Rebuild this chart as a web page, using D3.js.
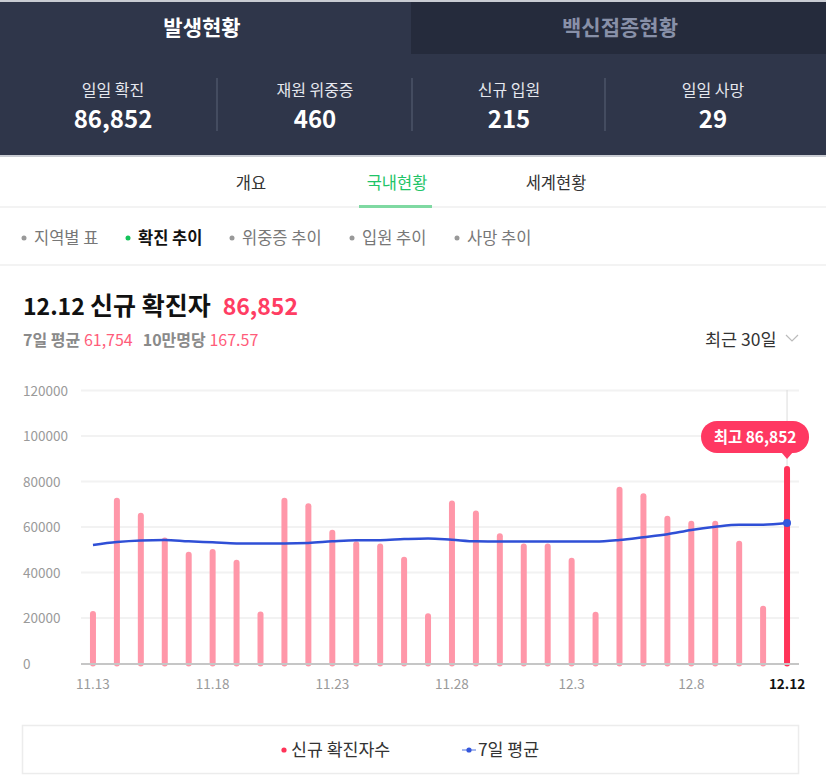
<!DOCTYPE html>
<html>
<head>
<meta charset="utf-8">
<script src="https://cdn.jsdelivr.net/npm/d3@7"></script>
<style>
  html, body { margin: 0; padding: 0; background: #fff; }
  svg { display: block; font-family: "Noto Sans CJK KR", "Noto Sans", sans-serif; }
</style>
</head>
<body>
<svg id="c" width="826" height="784"></svg>
<script>
// ---------- data ----------
const dates = ["11.13","11.14","11.15","11.16","11.17","11.18","11.19","11.20","11.21","11.22",
  "11.23","11.24","11.25","11.26","11.27","11.28","11.29","11.30","12.1","12.2",
  "12.3","12.4","12.5","12.6","12.7","12.8","12.9","12.10","12.11","12.12"];
const confirmed = [23100, 72900, 66300, 55400, 49100, 50300, 45600, 22900, 72900, 70400,
  58800, 53700, 52800, 46900, 22100, 71600, 67200, 57200, 52800, 52800,
  46500, 22800, 77700, 74800, 65000, 62800, 62800, 54000, 25400, 86852];
const avg7 = [52100, 53400, 54100, 54300, 53700, 53300, 52800, 52800, 52800, 53000,
  53700, 54200, 54200, 54700, 55000, 54400, 53700, 53600, 53600, 53600,
  53600, 53600, 54300, 55500, 56800, 58700, 60100, 61000, 61000, 61754];
const yTicks = [0, 20000, 40000, 60000, 80000, 100000, 120000];
const xTickLabels = ["11.13","11.18","11.23","11.28","12.3","12.8","12.12"];
const statLabels = ["일일 확진","재원 위중증","신규 입원","일일 사망"];
const statValues = ["86,852","460","215","29"];
const topTabs = ["발생현황","백신접종현황"];
const navTabs = ["개요","국내현황","세계현황"];
const subTabs = ["지역별 표","확진 추이","위중증 추이","입원 추이","사망 추이"];
const legendLabels = ["신규 확진자수","7일 평균"];

const svg = d3.select("#c");

// ---------- header ----------
svg.append("rect").attr("x",0).attr("y",0).attr("width",826).attr("height",156).attr("fill","#2f364a");
svg.append("rect").attr("x",411).attr("y",0).attr("width",415).attr("height",54).attr("fill","#252b3c");
svg.append("rect").attr("x",0).attr("y",0).attr("width",826).attr("height",2).attr("fill","#c9ccd3");
svg.append("rect").attr("x",0).attr("y",155).attr("width",826).attr("height",2).attr("fill","#c9ccd3");

svg.append("text").attr("x",202).attr("y",35).attr("text-anchor","middle")
  .attr("font-size",21).attr("font-weight","bold").attr("fill","#ffffff").text(topTabs[0]);
svg.append("text").attr("x",620).attr("y",35).attr("text-anchor","middle")
  .attr("font-size",21).attr("font-weight","bold").attr("fill","#8890a8").text(topTabs[1]);

const statX = [113, 315, 509, 713];
statLabels.forEach((l,i)=>{
  svg.append("text").attr("x",statX[i]).attr("y",96).attr("text-anchor","middle")
    .attr("font-size",16).attr("fill","#e6e8ee").text(l);
  svg.append("text").attr("x",statX[i]).attr("y",128).attr("text-anchor","middle")
    .attr("font-size",24).attr("font-weight","bold").attr("fill","#ffffff").text(statValues[i]);
});
[217, 412, 605].forEach(x=>{
  svg.append("line").attr("x1",x).attr("x2",x).attr("y1",78).attr("y2",131)
    .attr("stroke","#5b6276").attr("stroke-width",1);
});

// ---------- nav tabs ----------
const navX = [251, 397, 556];
navTabs.forEach((t,i)=>{
  svg.append("text").attr("x",navX[i]).attr("y",189).attr("text-anchor","middle")
    .attr("font-size",16.5).attr("fill", i===1 ? "#1fc468" : "#333").text(t);
});
svg.append("rect").attr("x",0).attr("y",206).attr("width",826).attr("height",2).attr("fill","#f3f3f3");
svg.append("rect").attr("x",359).attr("y",205).attr("width",73).attr("height",3).attr("fill","#7fd9a2");

// ---------- sub tabs ----------
const subDotX = [24, 128, 232, 352, 457];
subTabs.forEach((t,i)=>{
  const active = i===1;
  svg.append("circle").attr("cx",subDotX[i]).attr("cy",238).attr("r",2.5)
    .attr("fill", active ? "#14c35a" : "#999");
  svg.append("text").attr("x",subDotX[i]+10).attr("y",244)
    .attr("font-size",16.5).attr("font-weight", active ? "bold":"normal")
    .attr("fill", active ? "#111" : "#777").text(t);
});
svg.append("rect").attr("x",0).attr("y",264).attr("width",826).attr("height",2).attr("fill","#f3f3f3");

// ---------- title ----------
const title = svg.append("text").attr("x",23).attr("y",315).attr("font-weight","bold");
title.append("tspan").attr("fill","#111").attr("font-size",23).text("12.12 ");
title.append("tspan").attr("fill","#111").attr("font-size",25).text("신규 확진자");
title.append("tspan").attr("fill","#ff3d63").attr("font-size",23).attr("dx",12).text("86,852");

const sub = svg.append("text").attr("x",23).attr("y",346).attr("font-size",16);
sub.append("tspan").attr("fill","#8a8a8a").attr("font-weight","bold").text("7일 평균 ");
sub.append("tspan").attr("fill","#ff5c7a").text("61,754");
sub.append("tspan").attr("fill","#8a8a8a").attr("font-weight","bold").attr("dx",10).text("10만명당 ");
sub.append("tspan").attr("fill","#ff5c7a").text("167.57");

svg.append("text").attr("x",705).attr("y",346).attr("font-size",17.5).attr("fill","#333").text("최근 30일");
svg.append("path").attr("d","M786,335 L792,341 L798,335").attr("fill","none")
  .attr("stroke","#bbb").attr("stroke-width",1.2);

// ---------- chart ----------
const x = d3.scaleBand().domain(dates).range([81, 799]).padding(0);
const y = d3.scaleLinear().domain([0, 120000]).range([663.5, 390.5]);

const g = svg.append("g");
// grid
g.selectAll(".grid").data(yTicks.slice(1)).join("line")
  .attr("x1",81).attr("x2",799).attr("y1",d=>y(d)).attr("y2",d=>y(d))
  .attr("stroke","#f2f2f2").attr("stroke-width",2);
// y labels
g.selectAll(".ylab").data(yTicks).join("text")
  .attr("x",23).attr("y",d=>y(d)+5).attr("font-size",13.5).attr("fill","#9a9a9a")
  .text(d=>d);

// vertical marker line at last date
const lastX = x(dates[dates.length-1]) + x.bandwidth()/2;
g.append("line").attr("x1",lastX).attr("x2",lastX).attr("y1",390).attr("y2",y(confirmed[confirmed.length-1]))
  .attr("stroke","#dcdcdc").attr("stroke-width",1);

// bars
const bw = 6;
g.selectAll(".bar").data(confirmed).join("rect")
  .attr("x",(d,i)=>x(dates[i]) + x.bandwidth()/2 - bw/2)
  .attr("y",d=>y(d))
  .attr("width",bw)
  .attr("height",d=>y(0)-y(d)+3)
  .attr("rx",3)
  .attr("fill",(d,i)=> i===confirmed.length-1 ? "#ff3358" : "#ff97a9");

// baseline
g.append("line").attr("x1",81).attr("x2",799).attr("y1",664).attr("y2",664)
  .attr("stroke","#c6c6c6").attr("stroke-width",2);

// avg line
const line = d3.line()
  .x((d,i)=>x(dates[i]) + x.bandwidth()/2)
  .y(d=>y(d))
  .curve(d3.curveMonotoneX);
g.append("path").datum(avg7).attr("d",line).attr("fill","none")
  .attr("stroke","#2f4fd6").attr("stroke-width",2.5);
g.append("circle").attr("cx",lastX).attr("cy",y(avg7[avg7.length-1])).attr("r",4).attr("fill","#3557dc");

// x labels
g.selectAll(".xlab").data(xTickLabels).join("text")
  .attr("x",d=>x(d)+x.bandwidth()/2).attr("y",689).attr("text-anchor","middle")
  .attr("font-size",13.5)
  .attr("font-weight",d=> d==="12.12" ? "bold":"normal")
  .attr("fill",d=> d==="12.12" ? "#111" : "#9a9a9a")
  .text(d=>d);

// tooltip
const tipY = y(confirmed[confirmed.length-1]);
const tg = g.append("g");
tg.append("rect").attr("x",lastX-86).attr("y",tipY-45).attr("width",108).attr("height",32).attr("rx",16)
  .attr("fill","#ff3862");
tg.append("path").attr("d",`M${lastX-6},${tipY-14} L${lastX},${tipY-7} L${lastX+6},${tipY-14} Z`).attr("fill","#ff3862");
tg.append("text").attr("x",lastX-32).attr("y",tipY-23).attr("text-anchor","middle")
  .attr("font-size",15.5).attr("font-weight","bold").attr("fill","#fff").text("최고 86,852");

// ---------- legend ----------
svg.append("rect").attr("x",22.5).attr("y",725.5).attr("width",776).attr("height",48)
  .attr("fill","#fff").attr("stroke","#ececec").attr("stroke-width",1.5);
svg.append("circle").attr("cx",284).attr("cy",750).attr("r",2.6).attr("fill","#ff3358");
svg.append("text").attr("x",291).attr("y",756).attr("font-size",17.3).attr("fill","#333").text(legendLabels[0]);
svg.append("line").attr("x1",462).attr("x2",476).attr("y1",750).attr("y2",750).attr("stroke","#8aa0e8").attr("stroke-width",1.5);
svg.append("circle").attr("cx",469).attr("cy",750).attr("r",2.6).attr("fill","#3557dc");
svg.append("text").attr("x",478).attr("y",756).attr("font-size",17.3).attr("fill","#333").text(legendLabels[1]);
</script>
</body>
</html>
